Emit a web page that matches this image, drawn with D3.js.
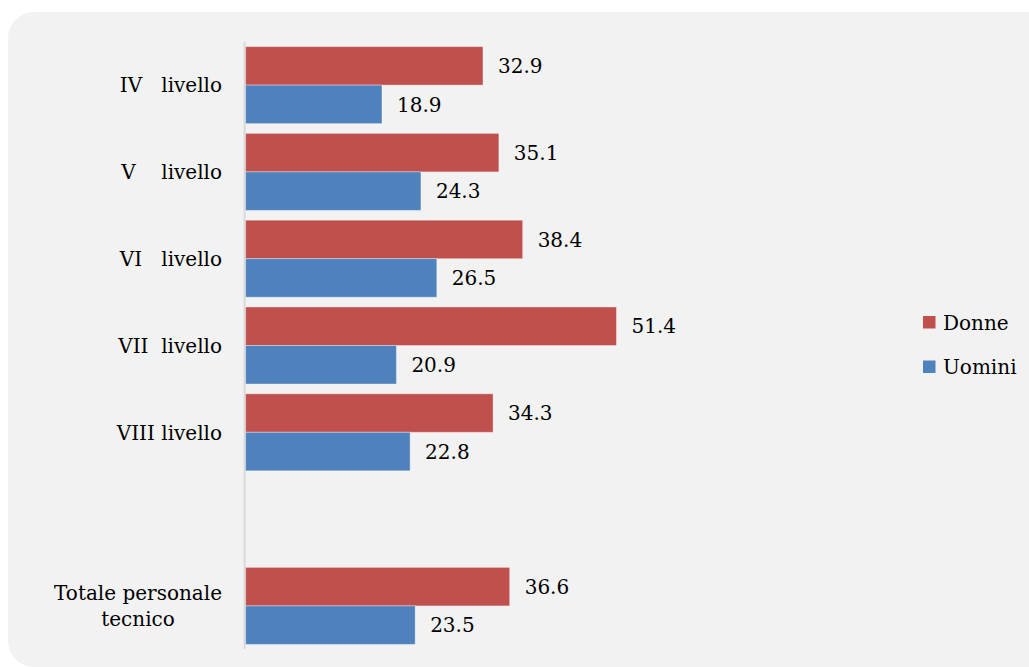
<!DOCTYPE html>
<html>
<head>
<meta charset="utf-8">
<script src="https://cdn.jsdelivr.net/npm/d3@7/dist/d3.min.js"></script>
<style>
  html, body { margin: 0; padding: 0; background: #ffffff; }
  svg { display: block; }
  text { font-family: "DejaVu Serif", "Liberation Serif", serif; fill: #000; }
</style>
</head>
<body>
<svg id="chart" width="1029" height="667"></svg>
<script>
// Categories (top to bottom); extra spaces keep the roman numerals aligned
const categories = [
  "IV   livello",
  "V    livello",
  "VI   livello",
  "VII  livello",
  "VIII livello",
  "Totale personale\ntecnico"
];
const seriesNames = ["Donne", "Uomini"];
const donne  = [32.9, 35.1, 38.4, 51.4, 34.3, 36.6];
const uomini = [18.9, 24.3, 26.5, 20.9, 22.8, 23.5];
const seriesColors = ["#c0504d", "#4f81bd"];

// A blank slot separates the levels from the total
const GAP = "__gap__";
const slots = categories.slice(0, 5).concat([GAP], categories.slice(5));

const rows = categories.map((c, i) => ({ cat: c, values: [donne[i], uomini[i]] }));

const svg = d3.select("#chart");
const fontSize = 20;

// Background panel with rounded corners
svg.append("rect")
  .attr("x", 8).attr("y", 12)
  .attr("width", 1060).attr("height", 655)
  .attr("rx", 26).attr("ry", 26)
  .attr("fill", "#f2f2f2");

const x = d3.scaleLinear().domain([0, 60]).range([245.6, 678.5]);
const y = d3.scaleBand().domain(slots).range([41.7, 649.3])
  .paddingInner(0.113).paddingOuter(0.0565);
const ys = d3.scaleBand().domain(seriesNames).range([0, y.bandwidth()]);
const color = d3.scaleOrdinal().domain(seriesNames).range(seriesColors);

// Category axis line
svg.append("line")
  .attr("x1", x(0) - 1).attr("x2", x(0) - 1)
  .attr("y1", y.range()[0]).attr("y2", y.range()[1])
  .attr("stroke", "#d9d9d9").attr("stroke-width", 2);

const groups = svg.append("g").selectAll("g.cat")
  .data(rows).join("g")
  .attr("class", "cat")
  .attr("transform", d => `translate(0,${y(d.cat)})`);

groups.selectAll("rect")
  .data(d => d.values.map((v, i) => ({ name: seriesNames[i], value: v })))
  .join("rect")
  .attr("x", x(0))
  .attr("y", d => ys(d.name))
  .attr("width", d => x(d.value) - x(0))
  .attr("height", ys.bandwidth())
  .attr("fill", d => color(d.name))
  .attr("stroke", "rgba(255,255,255,0.35)")
  .attr("stroke-width", 1);

// Value labels at the end of each bar
groups.selectAll("text.val")
  .data(d => d.values.map((v, i) => ({ name: seriesNames[i], value: v })))
  .join("text")
  .attr("class", "val")
  .attr("x", d => x(d.value) + 15)
  .attr("y", d => ys(d.name) + ys.bandwidth() / 2)
  .attr("dy", "0.36em")
  .attr("font-size", fontSize)
  .text(d => d.value.toFixed(1));

// Category labels, right edge aligned, multi-line labels centred on each other
const labelRight = 222;
const lineH = 26.7;
rows.forEach(d => {
  const lines = d.cat.split("\n");
  const cy = y(d.cat) + y.bandwidth() / 2;
  const g = svg.append("g");
  const texts = lines.map((ln, i) => g.append("text")
    .attr("font-size", fontSize)
    .attr("xml:space", "preserve")
    .style("white-space", "pre")
    .attr("y", cy + (i - (lines.length - 1) / 2) * lineH)
    .attr("dy", "0.36em")
    .text(ln));
  const widths = texts.map(t => t.node().getComputedTextLength());
  const maxW = d3.max(widths);
  const center = labelRight - maxW / 2;
  texts.forEach(t => t.attr("x", center).attr("text-anchor", "middle"));
});

// Legend
const legend = svg.append("g").selectAll("g")
  .data(seriesNames).join("g")
  .attr("transform", (d, i) => `translate(923,${316 + i * 44.5})`);
legend.append("rect")
  .attr("width", 12.5).attr("height", 12.5)
  .attr("fill", d => color(d));
legend.append("text")
  .attr("x", 20).attr("y", 6.5)
  .attr("dy", "0.36em")
  .attr("font-size", fontSize)
  .text(d => d);
</script>
</body>
</html>
